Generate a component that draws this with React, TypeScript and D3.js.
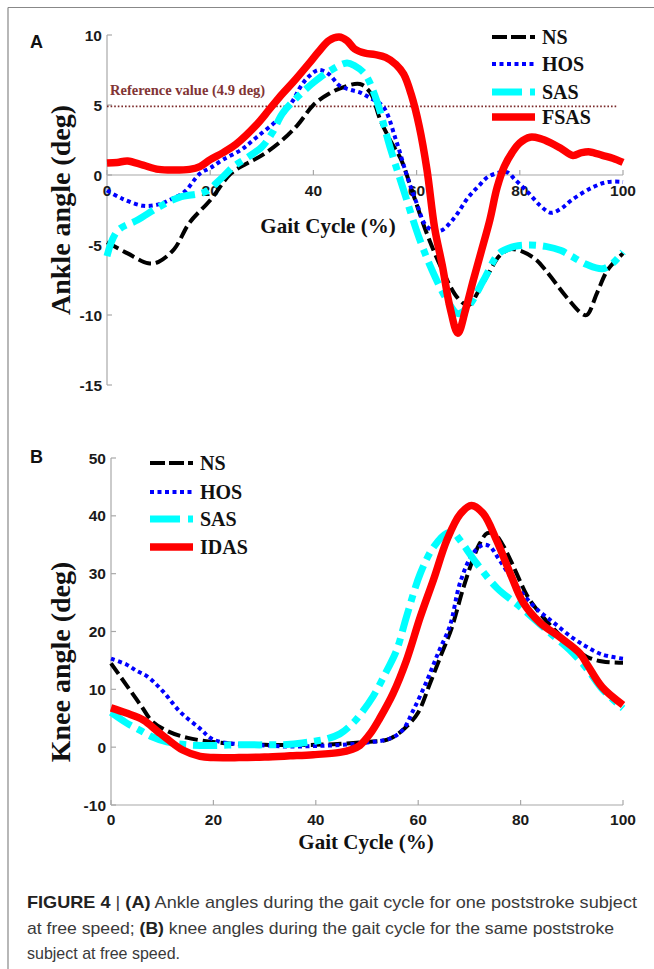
import * as d3 from "d3";

// gait cycle (%) / angle (deg) pairs
const ankleNS = [[0,-4.8],[4,-5.6],[8,-6.3],[10,-6.2],[13,-5.3],[16,-3.4],[20,-1.8],[24,0.1],[27,0.8],[30,1.4],[34,2.5],[37,3.6],[40,5.0],[43,5.8],[46,6.3],[49,6.5],[51,5.9],[53,3.9],[55,2.4],[57,1.1],[59,-1.0],[62,-4.2],[65,-6.8],[68,-8.8],[70,-9.3],[72,-8.3],[74,-7.0],[76,-5.8],[78,-5.3],[80,-5.4],[83,-6.0],[85,-6.8],[89,-8.7],[92,-9.9],[93,-10],[95,-8.4],[97,-6.8],[100,-5.6]];
const ankleHOS = [[0,-1.1],[3,-1.7],[7,-2.2],[10,-2.1],[12,-1.8],[15,-1.2],[18,0.1],[20,0.5],[22.5,1.1],[26,1.8],[29,2.7],[33.5,4.1],[36,5.3],[37.5,6.3],[39,7.0],[41,7.5],[43,7.2],[45,6.4],[47,6.1],[49,5.9],[51,5.5],[53.5,4.9],[56,2.5],[58,0.1],[60,-2.0],[62,-3.7],[64.5,-4.0],[67,-3.2],[70,-1.6],[72,-0.8],[74,-0.1],[77.5,0.2],[79,-0.3],[81.5,-1.2],[84,-2.2],[86,-2.7],[88,-2.4],[90,-1.8],[94,-0.9],[97,-0.5],[100,-0.5]];
const ankleSAS = [[0,-5.8],[2,-4.0],[6,-3.2],[10,-2.3],[14,-1.6],[19,-1.2],[22,-0.3],[24.5,0.6],[27,1.2],[30,2.0],[32,3.0],[34,4.4],[37,5.6],[40,6.6],[43,7.4],[46.5,8.0],[48,7.8],[50,7.2],[52,5.6],[55,1.8],[57.5,-1.1],[60.5,-4.5],[63,-6.8],[66,-9.0],[68,-9.9],[70,-9.4],[73,-7.5],[76,-5.6],[79,-5.1],[82,-5.0],[85,-5.1],[88,-5.4],[90,-5.8],[93,-6.4],[96,-6.7],[98,-6.3],[100,-5.5]];
const ankleFSAS = [[0,0.85],[2,0.9],[4,1.0],[7,0.7],[10,0.4],[13,0.35],[16,0.4],[18,0.6],[20,1.1],[22.5,1.6],[25,2.2],[29,3.6],[31.5,4.7],[34,5.8],[36,6.6],[39,7.9],[41,8.8],[43,9.6],[45,9.85],[46.5,9.6],[48,9.0],[50,8.7],[52,8.6],[54,8.4],[56,7.9],[57.5,7.2],[59,5.7],[60.5,3.5],[62,0.4],[63.5,-3.8],[65,-6.5],[66.5,-9.5],[68,-11.3],[69.5,-9.6],[71,-7.5],[72.5,-5.5],[74.2,-3.2],[75.6,-0.9],[77,0.6],[78.5,1.6],[80,2.3],[82,2.7],[84,2.6],[86,2.3],[88,1.9],[90.3,1.4],[92,1.6],[93.6,1.65],[96,1.4],[98,1.2],[100,0.9]];
const ankleReference = 4.9;

const kneeNS = [[0,14.5],[2,12.0],[4,9.5],[6,7.0],[8,4.5],[11,2.8],[15,1.6],[20,0.9],[25,0.5],[30,0.4],[40,0.4],[45,0.6],[50,0.9],[54,1.3],[56.5,2.6],[58,3.8],[60,6.0],[62.3,11],[64.5,16],[66.5,20.5],[68.8,27.5],[70.7,32.5],[72,35.2],[73.5,37],[75,36.8],[76.5,35],[78,32.4],[80,28.5],[81.2,26.3],[83,24],[86.4,20.5],[90,17.5],[93,15.6],[96,14.8],[100,14.6]];
const kneeHOS = [[0,15.3],[3,14.3],[5,13.2],[7,12.3],[10.2,9.6],[13.5,6.1],[17.4,3.2],[20,1.3],[25,0.5],[30,0.3],[35,0.1],[40,0.2],[45,0.4],[50,0.8],[54.5,1.5],[57,3],[59,6.3],[61.7,11.5],[64,16.5],[66.2,21],[68.2,28.5],[70.7,33.5],[72.7,35],[74,34.7],[75.4,33],[78,29.5],[80,27],[83,24],[86.5,21.5],[90,19],[93,17.3],[96,16],[100,15.3]];
const kneeSAS = [[0,6.0],[3,4.2],[5.7,2.9],[8,1.8],[10.9,0.9],[15,0.4],[20,0.3],[25,0.4],[30,0.4],[35,0.5],[39.5,1.0],[42,1.4],[44.7,2.3],[47.3,4.2],[49,6],[51.2,8.8],[53.9,13.3],[55.8,16.8],[57.7,22.5],[60.4,30],[63,34.6],[65.6,37],[67,37],[68,36],[71.4,31.8],[75.4,27.5],[80,24.2],[85,20.3],[89.6,16.8],[93,13.5],[96,10],[100,6.7]];
const kneeIDAS = [[0,6.8],[3,5.9],[6.3,4.7],[9,2.8],[11,1.4],[14,-0.5],[17.4,-1.6],[20,-1.8],[25,-1.8],[30,-1.7],[35,-1.5],[39.5,-1.3],[44.7,-0.9],[47,-0.4],[48.6,0.3],[50.6,2.3],[52.5,5.0],[55.1,9.3],[57.7,15.0],[60.4,22.5],[63,29],[65.6,35.8],[68.2,40.3],[70.4,41.8],[72.7,40.4],[75.3,35.8],[78,30],[80.5,25],[83.8,21.5],[87.7,19],[91.6,16.2],[93,14.3],[96,10.3],[100,7.3]];

const xTicks = [0, 20, 40, 60, 80, 100];
const ankleTicks = [10, 5, 0, -5, -10, -15];
const kneeTicks = [50, 40, 30, 20, 10, 0, -10];
const ankleNames = ["NS", "HOS", "SAS", "FSAS"];
const kneeNames = ["NS", "HOS", "SAS", "IDAS"];

const styles = [
  { color: "#000000", width: 4, dash: "13,5", legendDash: "15,4" },
  { color: "#0000ff", width: 4, dash: "4,3.5", legendDash: "4,3.5" },
  { color: "#00ffff", width: 7, dash: "24,7,7,7", legendDash: "30,8,7,7" },
  { color: "#ff0000", width: 7.5, dash: "none", legendDash: "none" },
];

const serif = "'Liberation Serif', 'Times New Roman', serif";
const sans = "'Liberation Sans', Arial, sans-serif";
const axisColor = "#a8a8a8";

function Series({ data, x, y, s }) {
  const line = d3
    .line()
    .x((d) => x(d[0]))
    .y((d) => y(d[1]))
    .curve(d3.curveCatmullRom.alpha(0.5));
  return (
    <path
      d={line(data) ?? ""}
      fill="none"
      stroke={s.color}
      strokeWidth={s.width}
      strokeDasharray={s.dash}
      strokeLinejoin="round"
    />
  );
}

function Legend({ names, x0, x1, rows, textX }) {
  return (
    <g>
      {names.map((n, i) => (
        <g key={n}>
          <line
            x1={x0}
            x2={x1}
            y1={rows[i]}
            y2={rows[i]}
            stroke={styles[i].color}
            strokeWidth={styles[i].width}
            strokeDasharray={styles[i].legendDash}
          />
          <text x={textX} y={rows[i] + 7} fontFamily={serif} fontWeight="bold" fontSize={20} fill="#111">
            {n}
          </text>
        </g>
      ))}
    </g>
  );
}

export default function App() {
  // panel A
  const xA = d3.scaleLinear().domain([0, 100]).range([107, 623]);
  const yA = d3.scaleLinear().domain([-15, 10]).range([385, 35]);
  // panel B
  const xB = d3.scaleLinear().domain([0, 100]).range([111, 623]);
  const yB = d3.scaleLinear().domain([-10, 50]).range([805, 458]);

  const ankle = [ankleNS, ankleHOS, ankleSAS, ankleFSAS];
  const knee = [kneeNS, kneeHOS, kneeSAS, kneeIDAS];

  return (
    <div style={{ position: "absolute", left: 0, top: 0 }}>
      <svg width={654} height={969} style={{ display: "block", background: "#fff" }}>
        {/* frame */}
        <line x1={8} x2={654} y1={7.5} y2={7.5} stroke="#888" strokeWidth={1.2} />
        <line x1={8} x2={8} y1={7.5} y2={969} stroke="#888" strokeWidth={1.2} />

        {/* ---- Panel A ---- */}
        <text x={30} y={48} fontFamily={sans} fontWeight="bold" fontSize={18} fill="#111">A</text>
        <line x1={xA(0)} x2={xA(0)} y1={yA(10)} y2={yA(-15)} stroke={axisColor} strokeWidth={1.2} />
        <line x1={xA(0)} x2={xA(100)} y1={yA(0)} y2={yA(0)} stroke={axisColor} strokeWidth={1.2} />
        {ankleTicks.map((t) => (
          <g key={t}>
            <line x1={xA(0)} x2={xA(0) + 5} y1={yA(t)} y2={yA(t)} stroke={axisColor} strokeWidth={1.2} />
            <text x={102} y={yA(t) + 5.5} textAnchor="end" fontFamily={sans} fontWeight="bold" fontSize={15.5} fill="#1a1a1a">
              {t}
            </text>
          </g>
        ))}
        {xTicks.map((t) => (
          <g key={t}>
            <line x1={xA(t)} x2={xA(t)} y1={yA(0)} y2={yA(0) - 5} stroke={axisColor} strokeWidth={1.2} />
            <text x={xA(t)} y={196} textAnchor="middle" fontFamily={sans} fontWeight="bold" fontSize={15.5} fill="#1a1a1a">
              {t}
            </text>
          </g>
        ))}
        <text x={328} y={233} textAnchor="middle" fontFamily={serif} fontWeight="bold" fontSize={21} fill="#111">
          Gait Cycle (%)
        </text>
        <text
          transform={`translate(70,${210}) rotate(-90)`}
          textAnchor="middle"
          fontFamily={serif}
          fontWeight="bold"
          fontSize={28}
          fill="#111"
        >
          Ankle angle (deg)
        </text>
        <line
          x1={xA(0)}
          x2={618}
          y1={yA(ankleReference)}
          y2={yA(ankleReference)}
          stroke="#7a2a2a"
          strokeWidth={1.6}
          strokeDasharray="1.6,2"
        />
        <text x={110} y={95} fontFamily={serif} fontWeight="bold" fontSize={14.5} fill="#823535">
          Reference value (4.9 deg)
        </text>
        {ankle.map((d, i) => (
          <Series key={i} data={d} x={xA} y={yA} s={styles[i]} />
        ))}
        <Legend names={ankleNames} x0={492} x1={535} rows={[37, 64, 92, 117]} textX={542} />

        {/* ---- Panel B ---- */}
        <text x={30} y={463} fontFamily={sans} fontWeight="bold" fontSize={18} fill="#111">B</text>
        <line x1={xB(0)} x2={xB(0)} y1={yB(50)} y2={yB(-10)} stroke={axisColor} strokeWidth={1.2} />
        <line x1={xB(0)} x2={xB(100)} y1={yB(-10)} y2={yB(-10)} stroke={axisColor} strokeWidth={1.2} />
        {kneeTicks.map((t) => (
          <g key={t}>
            <line x1={xB(0)} x2={xB(0) + 5} y1={yB(t)} y2={yB(t)} stroke={axisColor} strokeWidth={1.2} />
            <text x={106} y={yB(t) + 5.5} textAnchor="end" fontFamily={sans} fontWeight="bold" fontSize={15.5} fill="#1a1a1a">
              {t}
            </text>
          </g>
        ))}
        {xTicks.map((t) => (
          <g key={t}>
            <line x1={xB(t)} x2={xB(t)} y1={yB(-10)} y2={yB(-10) - 5} stroke={axisColor} strokeWidth={1.2} />
            <text x={xB(t)} y={825} textAnchor="middle" fontFamily={sans} fontWeight="bold" fontSize={15.5} fill="#1a1a1a">
              {t}
            </text>
          </g>
        ))}
        <text x={366} y={849} textAnchor="middle" fontFamily={serif} fontWeight="bold" fontSize={21} fill="#111">
          Gait Cycle (%)
        </text>
        <text
          transform={`translate(70,${662}) rotate(-90)`}
          textAnchor="middle"
          fontFamily={serif}
          fontWeight="bold"
          fontSize={28}
          fill="#111"
        >
          Knee angle (deg)
        </text>
        {knee.map((d, i) => (
          <Series key={i} data={d} x={xB} y={yB} s={styles[i]} />
        ))}
        <Legend names={kneeNames} x0={150} x1={193} rows={[463, 492, 519, 547]} textX={200} />

        {/* caption */}
        <g fontFamily={sans} fontSize={17} fill="#3a3a3a">
          <text x={27} y={908} textLength={610} lengthAdjust="spacingAndGlyphs">
            <tspan fontWeight="bold" fill="#222">FIGURE 4</tspan> | <tspan fontWeight="bold" fill="#222">(A)</tspan> Ankle angles during the gait cycle for one poststroke subject
          </text>
          <text x={27} y={934} textLength={587} lengthAdjust="spacingAndGlyphs">
            at free speed; <tspan fontWeight="bold" fill="#222">(B)</tspan> knee angles during the gait cycle for the same poststroke
          </text>
          <text x={27} y={959} textLength={153} lengthAdjust="spacingAndGlyphs">
            subject at free speed.
          </text>
        </g>
      </svg>
    </div>
  );
}
